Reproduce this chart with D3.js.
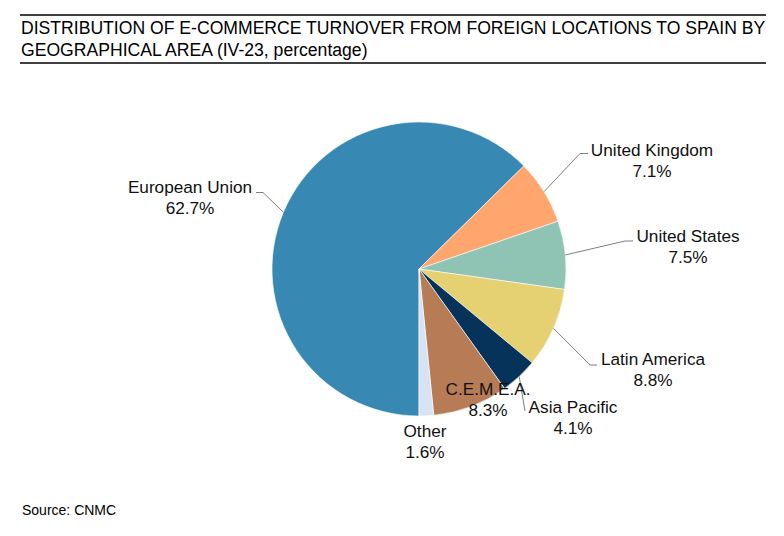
<!DOCTYPE html>
<html lang="en">
<head>
<meta charset="UTF-8">
<title>E-commerce turnover from foreign locations to Spain</title>
<script src="https://d3js.org/d3.v7.min.js"></script>
<style>
    body { margin: 0; background: #fff; }
    svg { display: block; font-family: "Liberation Sans", Arial, sans-serif; }
    .title { font-size: 17.6px; fill: #000; }
    .rule { stroke: #000; stroke-width: 1.3; }
    .lbl { font-size: 17.2px; fill: #111; }
    .leader { fill: none; stroke: #7f7f7f; stroke-width: 1; }
    .source { font-size: 14px; fill: #000; }
</style>
</head>
<body>
<svg id="chart" width="784" height="536"></svg>
<script>
    // data (clockwise from 6 o'clock)
    const areas = ["European Union", "United Kingdom", "United States", "Latin America", "Asia Pacific", "C.E.M.E.A.", "Other"];
    const shares = [62.7, 7.1, 7.5, 8.8, 4.1, 8.3, 1.6];
    const colors = ["#3789B3", "#FFA56E", "#8FC3B4", "#E5D072", "#05335A", "#B77C55", "#D7E2F3"];

    // label placement (centre x, first baseline y, leader elbow/end or null)
    const labelLayout = [
        { x: 190, y: 193, elbow: [263, 192.5], end: [256, 192.5] },
        { x: 652, y: 156, elbow: [580, 153.5], end: [588, 153.5] },
        { x: 688, y: 242, elbow: [625, 241], end: [633, 241] },
        { x: 653, y: 365, elbow: [590, 365], end: [597, 365] },
        { x: 573, y: 413, elbow: [525, 411], end: null },
        { x: 488, y: 395, elbow: null, end: null },
        { x: 425, y: 437, elbow: null, end: null }
    ];

    const svg = d3.select("#chart");
    const cx = 419, cy = 269, radius = 147;

    // title block with rules
    svg.append("line").attr("class", "rule").attr("x1", 20).attr("x2", 766).attr("y1", 15).attr("y2", 15);
    svg.append("line").attr("class", "rule").attr("x1", 20).attr("x2", 766).attr("y1", 63).attr("y2", 63);
    svg.append("text").attr("class", "title").attr("x", 21).attr("y", 34)
        .text("DISTRIBUTION OF E-COMMERCE TURNOVER FROM FOREIGN LOCATIONS TO SPAIN BY");
    svg.append("text").attr("class", "title").attr("x", 21).attr("y", 56)
        .text("GEOGRAPHICAL AREA (IV-23, percentage)");

    const data = areas.map((a, i) => ({ name: a, value: shares[i], color: colors[i], lay: labelLayout[i] }));

    const pie = d3.pie().value(d => d.value).sort(null)
        .startAngle(Math.PI).endAngle(3 * Math.PI);
    const arc = d3.arc().innerRadius(0).outerRadius(radius);
    const rim = d3.arc().innerRadius(radius).outerRadius(radius);

    const g = svg.append("g").attr("transform", `translate(${cx},${cy})`);
    const arcs = pie(data);

    g.selectAll("path.slice")
        .data(arcs)
        .join("path")
        .attr("class", "slice")
        .attr("d", arc)
        .attr("fill", d => d.data.color)
        .attr("stroke", "#ffffff")
        .attr("stroke-width", 0.6);

    // leader lines
    arcs.forEach(d => {
        const lay = d.data.lay;
        if (!lay.elbow) return;
        const p = rim.centroid(d);
        const pts = [[cx + p[0], cy + p[1]], lay.elbow];
        if (lay.end) pts.push(lay.end);
        svg.append("path").attr("class", "leader").attr("d", d3.line()(pts));
    });

    // data labels
    arcs.forEach(d => {
        const lay = d.data.lay;
        const t = svg.append("text").attr("class", "lbl").attr("text-anchor", "middle");
        t.append("tspan").attr("x", lay.x).attr("y", lay.y).text(d.data.name);
        t.append("tspan").attr("x", lay.x).attr("y", lay.y + 20.5).text(d.data.value.toFixed(1) + "%");
    });

    svg.append("text").attr("class", "source").attr("x", 22).attr("y", 515).text("Source: CNMC");
</script>
</body>
</html>
